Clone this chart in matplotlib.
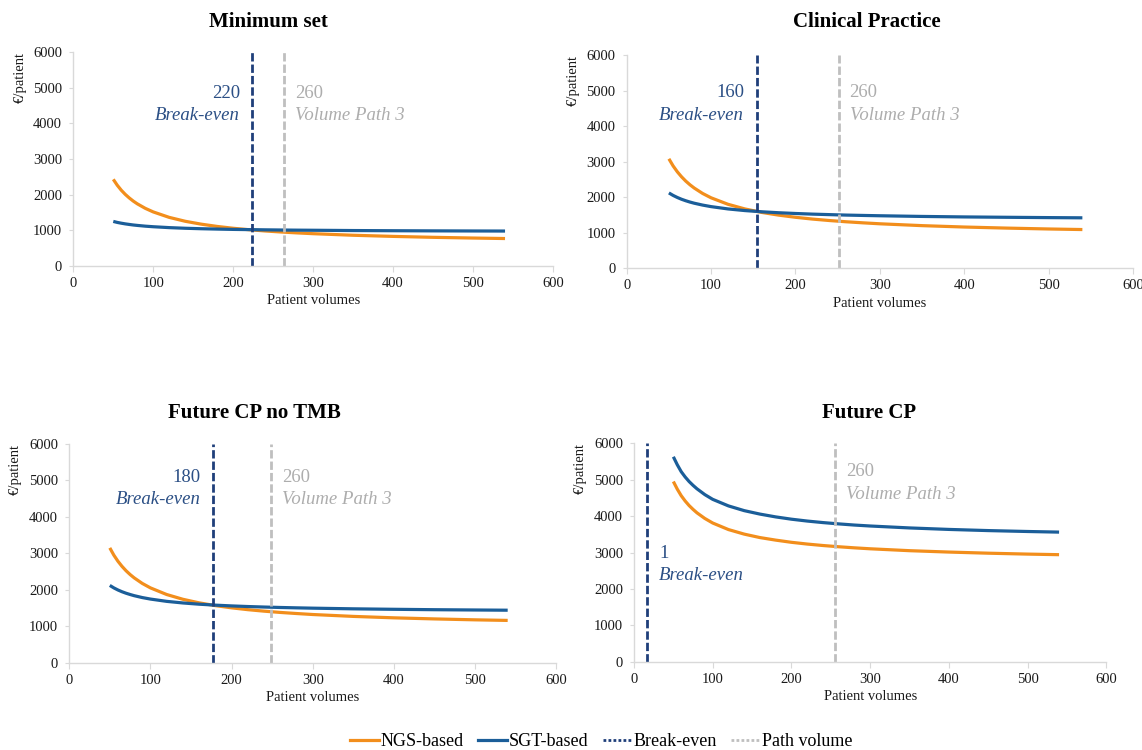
import matplotlib
matplotlib.use("Agg")
import matplotlib.pyplot as plt
from matplotlib.lines import Line2D

plt.rcParams['font.family'] = ['Liberation Serif', 'DejaVu Serif']

volumes = [50, 55, 60, 65, 70, 75, 80, 90, 100, 120, 140, 160, 180, 200, 220,
           240, 260, 280, 300, 350, 400, 450, 500, 540]

titles = ["Minimum set", "Clinical Practice", "Future CP no TMB", "Future CP"]

# cost per patient, NGS-based
ngs_min = [2430, 2264, 2125, 2008, 1908, 1820, 1744, 1617, 1516, 1363, 1254,
           1173, 1109, 1058, 1017, 982, 953, 928, 906, 862, 830, 804, 784, 770]
ngs_cp = [3080, 2880, 2714, 2574, 2453, 2349, 2258, 2105, 1983, 1801, 1670,
          1572, 1496, 1435, 1385, 1344, 1309, 1279, 1252, 1200, 1161, 1131,
          1106, 1090]
ngs_fut_notmb = [3150, 2950, 2784, 2644, 2523, 2419, 2328, 2175, 2053, 1871,
                 1740, 1642, 1566, 1505, 1455, 1414, 1379, 1349, 1322, 1270,
                 1231, 1201, 1176, 1160]
ngs_fut = [4950, 4740, 4560, 4415, 4290, 4185, 4090, 3935, 3810, 3630, 3505,
           3410, 3340, 3280, 3232, 3192, 3158, 3128, 3102, 3050, 3012, 2981,
           2956, 2940]

# cost per patient, SGT-based
sgt_min = [1250, 1222, 1200, 1181, 1165, 1150, 1138, 1117, 1101, 1076, 1058,
           1045, 1035, 1026, 1020, 1014, 1009, 1005, 1002, 994, 989, 985, 982,
           980]
sgt_cp = [2120, 2050, 1992, 1942, 1900, 1863, 1831, 1778, 1735, 1670, 1624,
          1590, 1563, 1542, 1524, 1510, 1497, 1487, 1478, 1459, 1445, 1435,
          1426, 1420]
sgt_fut_notmb = [2120, 2052, 1995, 1947, 1906, 1871, 1839, 1787, 1746, 1683,
                 1639, 1605, 1579, 1558, 1541, 1527, 1515, 1505, 1496, 1478,
                 1465, 1454, 1446, 1440]
sgt_fut = [5630, 5410, 5220, 5075, 4950, 4845, 4750, 4590, 4460, 4280, 4150,
           4055, 3978, 3915, 3864, 3822, 3786, 3754, 3728, 3675, 3634, 3602,
           3577, 3560]

ngs_all = [ngs_min, ngs_cp, ngs_fut_notmb, ngs_fut]
sgt_all = [sgt_min, sgt_cp, sgt_fut_notmb, sgt_fut]

# vertical markers: where the lines sit, and what the labels say
breakeven_x = [224, 154, 177, 16]
breakeven_lbl = ["220", "160", "180", "1"]
path_x = [264, 251, 249, 255]
path_lbl = ["260", "260", "260", "260"]

# colours
c_ngs = '#F28E1C'
c_sgt = '#1B5E99'
c_be = '#1F3F7A'
c_be_txt = '#2B4F85'
c_path = '#BFBFBF'
c_path_txt = '#ADADAD'
c_axis = '#D9D9D9'

fig = plt.figure(figsize=(11.42, 7.5), dpi=100)

W, H = 1142, 750
# axes boxes in pixels: x0, x1, ytop, ybottom
boxes = [(73.3, 553, 52, 266), (626.7, 1133, 55, 268.3),
         (69.2, 556.4, 444, 662.7), (634, 1106.3, 443.3, 661.7)]
title_pos = [(268, 22), (867, 22), (254, 413), (869, 413)]
# text heights (data y) for number / caption; blue text side: left or right
be_text_y = [(4840, 4215), (4940, 4310), (5085, 4490), (2980, 2365)]
be_side = ['left', 'left', 'left', 'right']
path_text_y = [(4840, 4215), (4940, 4310), (5085, 4490), (5220, 4605)]

for i in range(4):
    x0, x1, yt, yb = boxes[i]
    ax = fig.add_axes([x0 / W, 1 - yb / H, (x1 - x0) / W, (yb - yt) / H])

    ax.plot(volumes, ngs_all[i], color=c_ngs, lw=2.3, solid_capstyle='butt')
    ax.plot(volumes, sgt_all[i], color=c_sgt, lw=2.3, solid_capstyle='butt')
    ax.axvline(breakeven_x[i], color=c_be, lw=2, dashes=(3, 1.1))
    ax.axvline(path_x[i], color=c_path, lw=2, dashes=(3, 1.1))

    # labels next to the markers
    if be_side[i] == 'left':
        dx, ha = -9, 'right'
    else:
        dx, ha = 9, 'left'
    ax.annotate(breakeven_lbl[i], (breakeven_x[i], be_text_y[i][0]),
                xytext=(dx, 0), textcoords='offset points', ha=ha, va='center',
                color=c_be_txt, fontsize=13.5)
    ax.annotate("Break-even", (breakeven_x[i], be_text_y[i][1]),
                xytext=(dx, 0), textcoords='offset points', ha=ha, va='center',
                color=c_be_txt, fontsize=13.5, style='italic')
    ax.annotate(path_lbl[i], (path_x[i], path_text_y[i][0]),
                xytext=(8, 0), textcoords='offset points', ha='left', va='center',
                color=c_path_txt, fontsize=13.5)
    ax.annotate("Volume Path 3", (path_x[i], path_text_y[i][1]),
                xytext=(8, 0), textcoords='offset points', ha='left', va='center',
                color=c_path_txt, fontsize=13.5, style='italic')

    ax.set_xlim(0, 600)
    ax.set_ylim(0, 6000)
    ax.set_xticks(range(0, 601, 100))
    ax.set_yticks(range(0, 6001, 1000))
    for s in ['top', 'right']:
        ax.spines[s].set_visible(False)
    for s in ['left', 'bottom']:
        ax.spines[s].set_color(c_axis)
        ax.spines[s].set_linewidth(1)
    ax.tick_params(axis='x', length=4, color=c_axis, pad=4, labelsize=10.5,
                   labelcolor='#1a1a1a')
    ax.tick_params(axis='y', length=3, color=c_axis, pad=5, labelsize=10.5,
                   labelcolor='#1a1a1a')

    ax.set_xlabel("Patient volumes", fontsize=10.5, labelpad=3, color='#1a1a1a')
    ax.set_ylabel("€/patient", fontsize=10.5, loc='top', color='#1a1a1a')
    ax.yaxis.set_label_coords(-47 / (x1 - x0), 1.0)

    tx, ty = title_pos[i]
    fig.text(tx / W, 1 - ty / H, titles[i], ha='center', va='center',
             fontsize=15, fontweight='bold')

handles = [Line2D([], [], color=c_ngs, lw=2.3),
           Line2D([], [], color=c_sgt, lw=2.3),
           Line2D([], [], color=c_be, lw=2, linestyle=(0, (1, 0.8))),
           Line2D([], [], color=c_path, lw=2, linestyle=(0, (1, 0.8)))]
fig.legend(handles, ["NGS-based", "SGT-based", "Break-even", "Path volume"],
           loc='center', bbox_to_anchor=(601 / W, 1 - 742 / H), ncol=4,
           frameon=False, fontsize=13, handlelength=1.6, handletextpad=0.1,
           columnspacing=0.8)

fig.savefig("out.png", dpi=100, facecolor='white')
